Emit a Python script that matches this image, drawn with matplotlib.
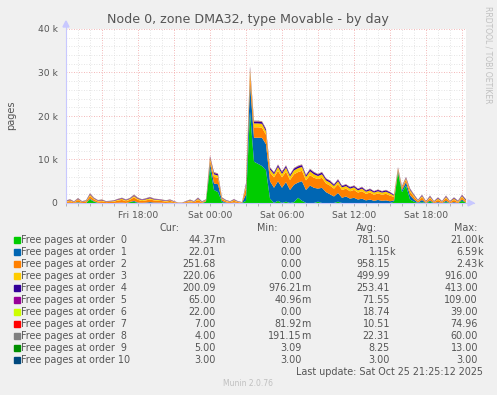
import numpy as np
import matplotlib
matplotlib.use("Agg")
import matplotlib.pyplot as plt
from matplotlib.patches import Polygon, Rectangle

# ---------------- data (20-minute samples, hours since Fri 12:00) ----------------
hours = [i / 3.0 for i in range(101)]

order0 = [0, 0, 0, 100, 0, 0, 800, 300, 0, 0,
          0, 0, 0, 0, 0, 0, 200, 300, 0, 0,
          0, 0, 0, 0, 0, 0, 100, 0, 0, 0,
          0, 0, 0, 0, 0, 300, 8000, 3000, 2500, 200,
          0, 0, 0, 0, 0, 500, 21000, 9500, 9000, 8500,
          7500, 1000, 0, 500, 0, 300, 0, 200, 1200, 500,
          0, 0, 0, 300, 0, 0, 0, 0, 300, 0,
          0, 0, 0, 0, 0, 0, 0, 0, 0, 0,
          0, 0, 300, 7000, 2500, 4000, 800, 300, 0, 200,
          0, 300, 0, 0, 0, 200, 0, 0, 0, 500,
          44]
order1 = [0, 50, 0, 100, 0, 0, 200, 100, 50, 0,
          0, 0, 0, 50, 100, 0, 50, 200, 100, 50,
          100, 200, 100, 100, 50, 0, 0, 0, 0, 0,
          0, 100, 0, 50, 0, 100, 1200, 1500, 1800, 300,
          100, 0, 100, 0, 0, 1500, 6500, 5500, 6000, 6500,
          6000, 4000, 3500, 4500, 3500, 4500, 3000, 4000, 3500, 4500,
          3000, 4000, 3500, 3000, 3500, 2500, 2000, 1500, 2000, 1200,
          1500, 1000, 1200, 800, 1000, 600, 800, 500, 700, 500,
          600, 400, 300, 400, 500, 800, 1000, 500, 100, 500,
          0, 300, 0, 200, 0, 300, 0, 200, 0, 300,
          22]
order2 = [250, 400, 150, 500, 200, 300, 600, 400, 300, 400,
          200, 250, 300, 500, 600, 400, 500, 800, 600, 400,
          500, 600, 500, 400, 400, 300, 400, 200, 50, 50,
          200, 300, 200, 600, 150, 200, 800, 1500, 1500, 400,
          300, 200, 400, 200, 100, 1500, 2400, 2400, 2400, 2300,
          2200, 2000, 2400, 2400, 2400, 2400, 2300, 2400, 2400, 2400,
          2200, 2400, 2300, 2200, 2300, 2000, 2000, 1800, 2000, 1800,
          1800, 1700, 1800, 1600, 1700, 1500, 1600, 1400, 1500, 1400,
          1500, 1300, 800, 400, 500, 600, 800, 600, 300, 600,
          200, 500, 200, 500, 200, 600, 200, 500, 200, 500,
          252]
order3 = [150, 200, 100, 200, 100, 150, 300, 200, 150, 200,
          100, 120, 150, 200, 250, 200, 200, 300, 250, 200,
          250, 300, 200, 200, 150, 150, 150, 100, 30, 20,
          100, 200, 100, 300, 100, 100, 400, 600, 500, 200,
          150, 100, 200, 100, 50, 600, 900, 900, 900, 900,
          800, 700, 700, 900, 800, 900, 800, 900, 900, 900,
          800, 900, 800, 700, 800, 700, 700, 600, 700, 600,
          600, 600, 600, 500, 600, 500, 500, 500, 500, 500,
          500, 500, 300, 200, 200, 300, 400, 300, 150, 300,
          100, 300, 100, 300, 100, 300, 100, 300, 150, 300,
          220]
order4 = [80, 100, 60, 100, 60, 80, 150, 100, 80, 100,
          60, 60, 80, 100, 120, 100, 100, 150, 120, 100,
          120, 150, 100, 100, 100, 80, 80, 60, 20, 20,
          60, 80, 60, 150, 60, 60, 200, 300, 300, 100,
          80, 60, 100, 60, 40, 300, 400, 400, 400, 400,
          400, 350, 350, 400, 400, 400, 350, 400, 400, 400,
          350, 400, 400, 350, 400, 350, 350, 300, 350, 300,
          300, 300, 300, 300, 300, 250, 300, 250, 300, 250,
          300, 250, 150, 100, 100, 150, 200, 150, 100, 150,
          80, 150, 80, 150, 80, 150, 80, 150, 100, 150,
          200]
order5 = [60, 70, 50, 80, 50, 60, 100, 70, 60, 70,
          50, 50, 60, 70, 80, 70, 70, 100, 80, 70,
          80, 90, 80, 70, 70, 60, 60, 50, 10, 10,
          50, 70, 50, 90, 50, 60, 109, 100, 90, 60,
          50, 40, 60, 40, 20, 90, 109, 100, 100, 100,
          100, 90, 90, 100, 90, 100, 80, 90, 100, 100,
          80, 90, 90, 80, 90, 80, 80, 80, 90, 80,
          80, 70, 80, 70, 80, 70, 70, 60, 70, 60,
          70, 60, 60, 80, 70, 90, 100, 80, 60, 100,
          50, 100, 50, 90, 50, 100, 60, 90, 60, 100,
          65]
order6 = [15, 20, 10, 20, 10, 15, 30, 20, 15, 20,
          10, 10, 15, 20, 25, 20, 20, 30, 25, 20,
          20, 25, 20, 20, 15, 15, 15, 10, 5, 5,
          10, 20, 10, 25, 10, 10, 35, 30, 25, 15,
          10, 10, 15, 10, 5, 25, 39, 35, 35, 35,
          30, 25, 25, 30, 25, 30, 25, 30, 30, 30,
          25, 30, 25, 25, 25, 20, 20, 20, 20, 20,
          20, 20, 20, 20, 20, 20, 20, 15, 20, 15,
          20, 15, 15, 20, 20, 25, 30, 20, 15, 25,
          10, 25, 10, 25, 10, 25, 10, 25, 15, 25,
          22]
order7 = [5, 8, 5, 10, 5, 5, 20, 10, 5, 8,
          5, 5, 5, 8, 10, 8, 8, 15, 10, 8,
          8, 10, 8, 8, 5, 5, 5, 5, 1, 1,
          5, 8, 5, 10, 5, 5, 75, 40, 30, 10,
          5, 5, 8, 5, 2, 20, 60, 40, 30, 25,
          20, 15, 15, 15, 12, 15, 10, 12, 15, 15,
          10, 12, 10, 10, 10, 8, 8, 8, 8, 8,
          8, 8, 8, 8, 8, 7, 8, 7, 8, 7,
          8, 7, 7, 20, 10, 15, 12, 8, 5, 10,
          5, 10, 5, 10, 5, 10, 5, 10, 5, 10,
          7]
order8 = [15, 25, 10, 30, 10, 15, 50, 25, 15, 25,
          10, 10, 15, 20, 30, 20, 25, 45, 30, 20,
          25, 30, 20, 20, 15, 15, 15, 10, 1, 1,
          10, 20, 10, 35, 10, 15, 60, 40, 35, 15,
          10, 10, 15, 10, 5, 40, 60, 45, 40, 40,
          35, 30, 30, 35, 30, 35, 30, 30, 35, 35,
          25, 30, 25, 25, 25, 20, 20, 20, 20, 20,
          20, 20, 20, 15, 20, 15, 15, 15, 15, 15,
          20, 15, 15, 25, 20, 30, 45, 25, 15, 40,
          10, 40, 10, 35, 10, 40, 10, 35, 15, 40,
          4]
order9 = [8, 8, 7, 9, 7, 8, 10, 8, 8, 8,
          7, 7, 8, 8, 9, 8, 8, 10, 9, 8,
          8, 9, 8, 8, 7, 7, 7, 6, 4, 4,
          6, 8, 6, 9, 6, 7, 13, 11, 10, 8,
          7, 6, 7, 6, 5, 9, 13, 12, 12, 12,
          11, 10, 10, 10, 10, 10, 9, 10, 10, 10,
          9, 10, 9, 9, 9, 8, 8, 8, 8, 8,
          8, 8, 8, 8, 8, 7, 8, 7, 8, 7,
          8, 7, 7, 9, 8, 9, 10, 8, 7, 9,
          6, 9, 6, 9, 6, 9, 6, 9, 6, 5,
          5]
order10 = [3.0] * 101

series = [order0, order1, order2, order3, order4, order5,
          order6, order7, order8, order9, order10]
labels = ["Free pages at order  0", "Free pages at order  1", "Free pages at order  2",
          "Free pages at order  3", "Free pages at order  4", "Free pages at order  5",
          "Free pages at order  6", "Free pages at order  7", "Free pages at order  8",
          "Free pages at order  9", "Free pages at order 10"]
colors = ["#00CC00", "#0066B3", "#FF8000", "#FFCC00", "#330099", "#990099",
          "#CCFF00", "#FF0000", "#808080", "#008F00", "#00487D"]

cur = [("44.37", "m"), ("22.01", ""), ("251.68", ""), ("220.06", ""), ("200.09", ""),
       ("65.00", ""), ("22.00", ""), ("7.00", ""), ("4.00", ""), ("5.00", ""), ("3.00", "")]
mins = [("0.00", ""), ("0.00", ""), ("0.00", ""), ("0.00", ""), ("976.21", "m"),
        ("40.96", "m"), ("0.00", ""), ("81.92", "m"), ("191.15", "m"), ("3.09", ""), ("3.00", "")]
avgs = [("781.50", ""), ("1.15", "k"), ("958.15", ""), ("499.99", ""), ("253.41", ""),
        ("71.55", ""), ("18.74", ""), ("10.51", ""), ("22.31", ""), ("8.25", ""), ("3.00", "")]
maxs = [("21.00", "k"), ("6.59", "k"), ("2.43", "k"), ("916.00", ""), ("413.00", ""),
        ("109.00", ""), ("39.00", ""), ("74.96", ""), ("60.00", ""), ("13.00", ""), ("3.00", "")]

xtick_pos = [6, 12, 18, 24, 30]
xtick_labels = ["Fri 18:00", "Sat 00:00", "Sat 06:00", "Sat 12:00", "Sat 18:00"]
ytick_pos = [0, 10000, 20000, 30000, 40000]
ytick_labels = ["0", "10 k", "20 k", "30 k", "40 k"]

# ---------------- figure ----------------
W, H = 497, 395
BG = "#F0F0F0"
TXT = "#555555"
fig = plt.figure(figsize=(W / 100, H / 100), dpi=100)
fig.patch.set_facecolor(BG)

def fx(x):
    return x / W

def fy(y):
    return 1 - y / H

L, R, T, B = 66, 466, 29, 203
ax = fig.add_axes([fx(L), fy(B), (R - L) / W, (B - T) / H])
ax.set_facecolor("white")
ax.set_xlim(0, (R - L) / 12.0)
ax.set_ylim(0, 40000)

# grid
for h in range(1, 34):
    if h % 3 == 0:
        continue
    ax.axvline(h, color="#DCDCDC", lw=0.6, ls=(0, (1, 2)), zorder=0.5)
for v in range(2000, 40001, 2000):
    if v % 10000 == 0:
        continue
    ax.axhline(v, color="#DCDCDC", lw=0.6, ls=(0, (1, 2)), zorder=0.5)
for h in range(3, 34, 3):
    ax.axvline(h, color="#F0A0A0", lw=0.6, ls=(0, (1, 2)), zorder=0.6)
for v in range(10000, 40001, 10000):
    ax.axhline(v, color="#F0A0A0", lw=0.6, ls=(0, (1, 2)), zorder=0.6)

ax.stackplot(hours, *series, colors=colors, linewidth=0, zorder=2)

for s in ax.spines.values():
    s.set_visible(False)
ax.set_xticks(xtick_pos)
ax.set_xticklabels(xtick_labels)
ax.set_yticks(ytick_pos)
ax.set_yticklabels(ytick_labels)
ax.tick_params(axis="both", length=0, labelsize=6.6, labelcolor=TXT, pad=3)
ax.set_xticks(range(0, 34), minor=True)
ax.tick_params(axis="x", which="minor", length=2, color="#999999", width=0.5)
ax.tick_params(axis="x", which="major", length=2, color="#999999", width=0.5, pad=4)
ax.tick_params(axis="y", pad=6)

# axes lines with arrows
axc = "#C8C8FF"
ax.plot([0, 0], [0, 40500], color=axc, lw=0.8, clip_on=False, zorder=3)
ax.plot([0, 34.0], [0, 0], color=axc, lw=0.8, clip_on=False, zorder=3)
fig.patches.append(Polygon([[fx(63), fy(27)], [fx(69), fy(27)], [fx(66), fy(21)]],
                           closed=True, transform=fig.transFigure, color=axc))
fig.patches.append(Polygon([[fx(468), fy(200)], [fx(468), fy(206)], [fx(474), fy(203)]],
                           closed=True, transform=fig.transFigure, color=axc))

# title and labels
fig.text(fx(248), fy(19), "Node 0, zone DMA32, type Movable - by day",
         ha="center", va="center", fontsize=9.1, color=TXT)
fig.text(fx(11), fy(115), "pages", rotation=90, ha="center", va="center",
         fontsize=7, color=TXT)
fig.text(fx(488), fy(55), "RRDTOOL / TOBI OETIKER", rotation=270, ha="center",
         va="center", fontsize=5.5, color="#C0C0C0")

# legend table
fs = 6.9
hy = 228
fig.text(fx(180), fy(hy), "Cur:", ha="right", va="center", fontsize=fs, color=TXT)
fig.text(fx(278), fy(hy), "Min:", ha="right", va="center", fontsize=fs, color=TXT)
fig.text(fx(377), fy(hy), "Avg:", ha="right", va="center", fontsize=fs, color=TXT)
fig.text(fx(477), fy(hy), "Max:", ha="right", va="center", fontsize=fs, color=TXT)

cols = [(216, cur), (302, mins), (390, avgs), (478, maxs)]
for i, lab in enumerate(labels):
    y = 240 + 12 * i
    fig.patches.append(Rectangle((fx(14), fy(y + 3)), 6 / W, 6 / H,
                                 transform=fig.transFigure, color=colors[i]))
    fig.text(fx(21), fy(y), lab, ha="left", va="center", fontsize=fs, color=TXT)
    for xr, col in cols:
        num, suf = col[i]
        fig.text(fx(xr), fy(y), num, ha="right", va="center", fontsize=fs, color=TXT)
        if suf:
            fig.text(fx(xr - 1.2), fy(y), suf, ha="left", va="center", fontsize=fs, color=TXT)

fig.text(fx(483), fy(372), "Last update: Sat Oct 25 21:25:12 2025", ha="right",
         va="center", fontsize=fs, color=TXT)
fig.text(fx(248), fy(384), "Munin 2.0.76", ha="center", va="center",
         fontsize=5.5, color="#C0C0C0")

fig.savefig("out.png", dpi=100, facecolor=BG)
